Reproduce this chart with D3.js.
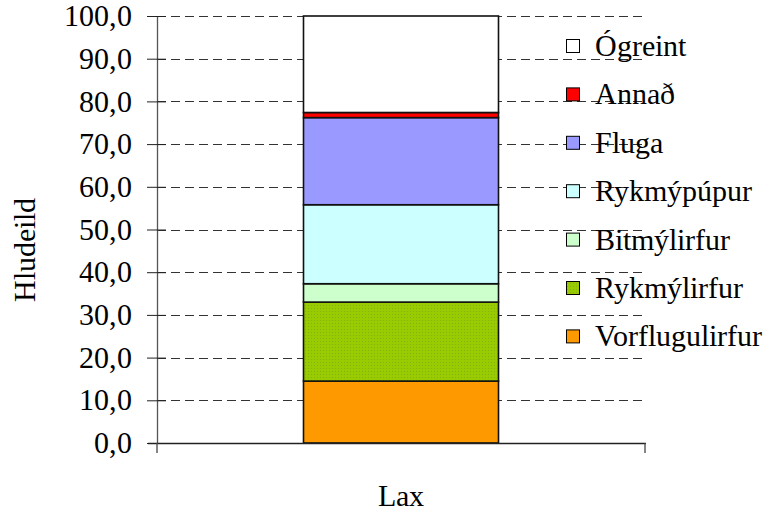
<!DOCTYPE html>
<html>
<head>
<meta charset="utf-8">
<script src="https://cdn.jsdelivr.net/npm/d3@7"></script>
<style>
  @font-face {
    font-family: "ChartSerif";
    src: local("Liberation Serif"), local("LiberationSerif"), local("LiberationSerif-Regular"),
         local("Liberation Serif Regular"), local("Times New Roman"), local("TimesNewRomanPSMT");
  }
  html, body { margin: 0; padding: 0; background: #fff; }
</style>
</head>
<body>
<svg id="chart" width="768" height="512" font-family="ChartSerif, serif"></svg>
<script>
// Hlutfall fæðuflokka í maga laxa (stacked, %)
const categories = ["Lax"];
const seriesNames = ["Vorflugulirfur", "Rykmýlirfur", "Bitmýlirfur", "Rykmýpúpur", "Fluga", "Annað", "Ógreint"];
const seriesValues = [14.5, 18.5, 4.3, 18.5, 20.4, 1.2, 22.6];
const seriesColors = ["#FF9900", "#99CC00", "#CCFFCC", "#CCFFFF", "#9999FF", "#FF0000", "#FFFFFF"];
const yTicks = [0, 10, 20, 30, 40, 50, 60, 70, 80, 90, 100];
const yTitle = "Hludeild";

const svg = d3.select("#chart");
const margin = { left: 157, right: 123, top: 16, bottom: 69 };
const W = 768, H = 512;
const plotW = W - margin.left - margin.right;
const plotH = H - margin.top - margin.bottom;
const FS = 30;
const FONT = "ChartSerif, serif";

const defs = svg.append("defs");
const pat = defs.append("pattern")
  .attr("id", "dots").attr("width", 3).attr("height", 3)
  .attr("patternUnits", "userSpaceOnUse");
pat.append("rect").attr("width", 3).attr("height", 3).attr("fill", "#99CC00");
pat.append("rect").attr("x", 1).attr("y", 1).attr("width", 1).attr("height", 1).attr("fill", "#88b010");

const fillFor = (i) => seriesNames[i] === "Rykmýlirfur" ? "url(#dots)" : seriesColors[i];

const g = svg.append("g").attr("transform", `translate(${margin.left},${margin.top})`);

const x = d3.scaleBand().domain(categories).range([0, plotW]).paddingInner(0).paddingOuter(0.5);
const bandW = 195;
const y = d3.scaleLinear().domain([0, 100]).range([plotH, 0]);

// dashed gridlines
g.append("g").selectAll("line")
  .data(yTicks.filter(t => t > 0))
  .join("line")
  .attr("x1", 0).attr("x2", plotW)
  .attr("y1", d => Math.round(y(d)) + 0.5).attr("y2", d => Math.round(y(d)) + 0.5)
  .attr("stroke", "#333").attr("stroke-width", 1)
  .attr("stroke-dasharray", "9,5");

// stacked bar
const rows = categories.map(c => {
  const o = { cat: c };
  seriesNames.forEach((s, i) => { o[s] = seriesValues[i]; });
  return o;
});
const stack = d3.stack().keys(seriesNames)(rows);

g.append("g").selectAll("rect")
  .data(stack.map((layer, i) => ({ layer, i })))
  .join("rect")
  .attr("x", d => x(categories[0]) + x.bandwidth() / 2 - bandW / 2)
  .attr("width", bandW)
  .attr("y", d => y(d.layer[0][1]))
  .attr("height", d => y(d.layer[0][0]) - y(d.layer[0][1]))
  .attr("fill", d => fillFor(d.i))
  .attr("stroke", "#111").attr("stroke-width", 1.6);

// y axis
const yAxis = d3.axisLeft(y).tickValues(yTicks)
  .tickFormat(d => d3.format(".1f")(d).replace(".", ","))
  .tickSize(0).tickPadding(25);
const ya = g.append("g").call(yAxis).attr("font-family", FONT).attr("font-size", FS);
ya.select(".domain").attr("stroke", "#555").attr("stroke-width", 1.3);
ya.selectAll(".tick line").remove();
ya.selectAll(".tick").append("line")
  .attr("x1", -10).attr("x2", 9).attr("stroke", "#222").attr("stroke-width", 1);
ya.selectAll(".tick text").attr("font-size", FS).attr("font-family", FONT).attr("fill", "#000");

// x axis
const xa = g.append("g").attr("transform", `translate(0,${plotH})`)
  .call(d3.axisBottom(x).tickSize(0).tickFormat(""));
xa.select(".domain").remove();
xa.append("line").attr("x1", -9).attr("x2", plotW + 1).attr("y1", 0.5).attr("y2", 0.5)
  .attr("stroke", "#222").attr("stroke-width", 1.3);
xa.selectAll(".edge").data([0, plotW]).join("line")
  .attr("x1", d => d).attr("x2", d => d).attr("y1", 0).attr("y2", 10)
  .attr("stroke", "#444").attr("stroke-width", 1.3);

g.append("text")
  .attr("x", x(categories[0]) + x.bandwidth() / 2)
  .attr("y", plotH + 63)
  .attr("text-anchor", "middle").attr("font-size", FS).attr("font-family", FONT)
  .text(categories[0]);

// y axis title
svg.append("text")
  .attr("transform", "translate(35,250) rotate(-90)")
  .attr("text-anchor", "middle").attr("font-size", FS).attr("font-family", FONT)
  .text(yTitle);

// legend (top to bottom in reverse stack order)
const legendItems = seriesNames.map((s, i) => ({ s, i })).reverse();
const lg = svg.append("g").attr("transform", "translate(566,46)");
const li = lg.selectAll("g").data(legendItems).join("g")
  .attr("transform", (d, k) => `translate(0,${k * 48.4})`);
li.append("rect").attr("x", 0.5).attr("y", -6.5).attr("width", 13).attr("height", 13)
  .attr("fill", d => fillFor(d.i)).attr("stroke", "#000").attr("stroke-width", 1);
li.append("text").attr("x", 29).attr("y", 10).attr("font-size", FS).attr("font-family", FONT).text(d => d.s);
</script>
</body>
</html>
